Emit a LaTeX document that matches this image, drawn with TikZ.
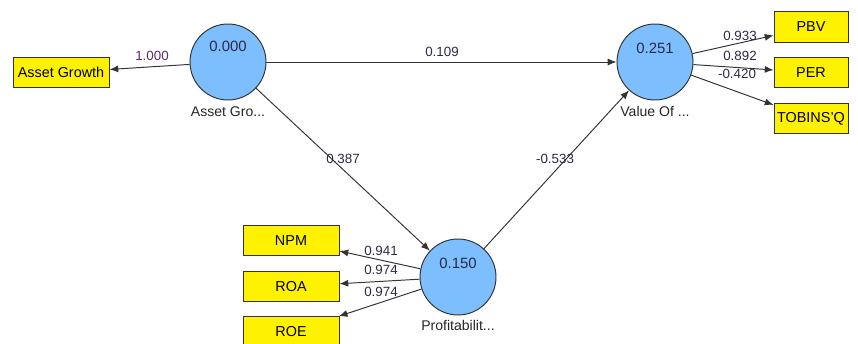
\documentclass[tikz,border=0pt]{standalone}
\usepackage{fontspec}
\setmainfont{Liberation Sans}
\usetikzlibrary{arrows.meta}
\definecolor{latentBlue}{HTML}{7DBEFF}
\definecolor{lineGray}{HTML}{333333}
\definecolor{valueInk}{HTML}{2A2A44}
\definecolor{loadInk}{HTML}{5A2A6A}
\begin{document}
\begin{tikzpicture}[x=0.02cm, y=-0.02cm,
	latent/.style={draw=lineGray, circle, fill=latentBlue, minimum size=1.52cm, inner sep=0pt, line width=0.55pt},
	indicator/.style={draw=lineGray, rectangle, fill=yellow, text centered, minimum height=0.61cm, inner sep=0pt, line width=0.55pt, font=\fontsize{8.2}{9}\selectfont},
	path/.style={draw=lineGray, line width=0.55pt, -{Latex[length=5pt,width=4pt]}},
	coef/.style={text=valueInk, inner sep=0pt, font=\fontsize{7.6}{9}\selectfont},
	rsq/.style={text=valueInk, inner sep=0pt, font=\fontsize{8.5}{9}\selectfont},
	lvname/.style={text=black!85, inner sep=0pt, font=\fontsize{8}{9}\selectfont}]
	
	\useasboundingbox (0,0) rectangle (858,344);
	
	%Latent variables
	\node (assetGrowth) at (228,62) [latent]{};
	\node (valueOf) at (655,62) [latent]{};
	\node (profitability) at (458,277) [latent]{};
	
	%R squared values and names
	\node at (228,46) [rsq]{0.000};
	\node at (655,48) [rsq]{0.251};
	\node at (458,263) [rsq]{0.150};
	\node at (228,112) [lvname]{Asset Gro...};
	\node at (655,111) [lvname]{Value Of ...};
	\node at (458,325) [lvname]{Profitabilit...};
	
	%Indicators
	\node (agBox) at (61,72.5) [indicator, minimum width=1.92cm]{Asset Growth};
	\node (pbvBox) at (811,27) [indicator, minimum width=1.48cm]{PBV};
	\node (perBox) at (811,72.5) [indicator, minimum width=1.48cm]{PER};
	\node (tobinBox) at (811,118.5) [indicator, minimum width=1.48cm]{TOBINS'Q};
	\node (npmBox) at (291,240.5) [indicator, minimum width=1.92cm]{NPM};
	\node (roaBox) at (291,286.5) [indicator, minimum width=1.92cm]{ROA};
	\node (roeBox) at (291,332) [indicator, minimum width=1.92cm]{ROE};
	
	%Inner model
	\draw[path] (assetGrowth) -- (valueOf);
	\draw[path] (assetGrowth) -- (profitability);
	\draw[path] (profitability) -- (valueOf);
	\node at (442,52) [coef]{0.109};
	\node at (343,159) [coef]{0.387};
	\node at (555,159) [coef]{-0.533};
	
	%Outer model
	\draw[path] (assetGrowth) -- (agBox);
	\node at (152,56) [coef, text=loadInk]{1.000};
	\draw[path] (valueOf) -- (pbvBox);
	\draw[path] (valueOf) -- (perBox);
	\draw[path] (valueOf) -- (tobinBox);
	\node at (740,36) [coef]{0.933};
	\node at (740,56) [coef]{0.892};
	\node at (737,74) [coef]{-0.420};
	\draw[path] (profitability) -- (npmBox);
	\draw[path] (profitability) -- (roaBox);
	\draw[path] (profitability) -- (roeBox);
	\node at (381,251) [coef]{0.941};
	\node at (381,270) [coef]{0.974};
	\node at (381,292) [coef]{0.974};
	
\end{tikzpicture}
\end{document}
